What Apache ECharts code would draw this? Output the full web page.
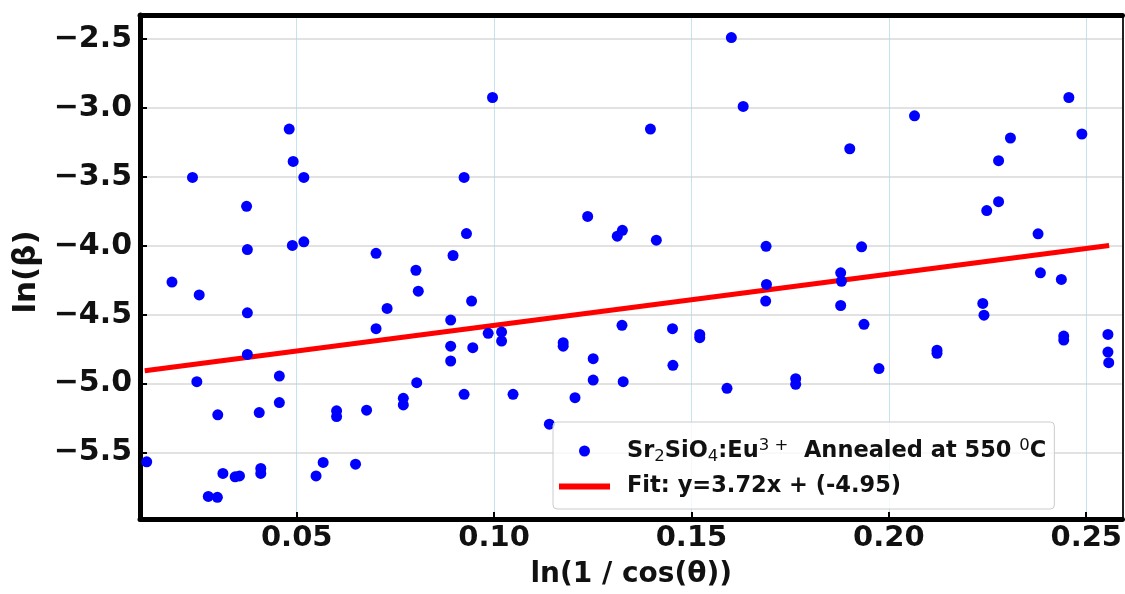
<!DOCTYPE html>
<html>
<head>
<meta charset="utf-8">
<script src="https://cdn.jsdelivr.net/npm/echarts@6/dist/echarts.min.js"></script>
<style>
html,body{margin:0;padding:0;background:#fff;}
#chart{width:1125px;height:594px;}
</style>
</head>
<body>
<div id="chart"></div>
<script>
// ---- data ----
const xValues = [0.0120,0.0184,0.0236,0.0247,0.0253,0.0276,0.0299,0.0300,0.0313,0.0344,0.0355,0.0373,0.0375,0.0375,0.0375,0.0405,0.0409,0.0409,0.0456,0.0456,
0.0481,0.0489,0.0491,0.0518,0.0518,0.0549,0.0567,0.0601,0.0601,0.0649,0.0677,0.0701,0.0701,0.0729,0.0770,0.0770,0.0802,0.0804,0.0808,0.0890,
0.0890,0.0890,0.0896,0.0924,0.0924,0.0930,0.0943,0.0946,0.0985,0.0996,0.1019,0.1019,0.1048,0.1140,0.1175,0.1175,0.1205,0.1237,0.1251,0.1251,
0.1312,0.1324,0.1325,0.1327,0.1396,0.1411,0.1452,0.1453,0.1521,0.1521,0.1590,0.1601,0.1631,0.1689,0.1690,0.1688,0.1764,0.1764,0.1878,0.1880,
0.1878,0.1901,0.1931,0.1937,0.1975,0.2065,0.2122,0.2122,0.2238,0.2241,0.2248,0.2278,0.2278,0.2308,0.2378,0.2384,0.2437,0.2443,0.2443,0.2456,
0.2489,0.2555,0.2555,0.2557];
const yValues = [-5.568,-4.263,-3.503,-4.986,-4.356,-5.819,-5.826,-5.227,-5.652,-5.677,-5.670,-3.713,-4.027,-4.486,-4.788,-5.210,-5.616,-5.652,-4.945,-5.138,
-3.152,-3.997,-3.387,-3.503,-3.971,-5.670,-5.572,-5.198,-5.239,-5.585,-5.193,-4.054,-4.601,-4.454,-5.107,-5.155,-4.177,-4.993,-4.329,-4.539,
-4.728,-4.836,-4.070,-3.503,-5.078,-3.911,-4.401,-4.739,-4.635,-2.923,-4.626,-4.691,-5.078,-5.295,-4.703,-4.728,-5.102,-3.786,-4.819,-4.974,
-3.930,-4.577,-3.887,-4.986,-3.152,-3.959,-4.601,-4.867,-4.643,-4.667,-5.034,-2.488,-2.988,-4.003,-4.280,-4.401,-4.964,-5.005,-4.196,-4.257,
-4.433,-3.295,-4.007,-4.570,-4.891,-3.056,-4.757,-4.780,-4.418,-4.503,-3.744,-3.382,-3.679,-3.217,-3.913,-4.196,-4.244,-4.655,-4.684,-2.923,
-3.188,-4.643,-4.771,-4.848];
const fitX = [0.0115, 0.2558];
const fitY = [-4.907, -3.998];
const xTicks = [0.05, 0.10, 0.15, 0.20, 0.25];
const yTicks = [-5.5, -5.0, -4.5, -4.0, -3.5, -3.0, -2.5];
const scatterName = 'Sr2SiO4:Eu3+ Annealed at 550 0C';
const fitName = 'Fit: y=3.72x + (-4.95)';

const FONT = 'DejaVu Sans';
const chart = echarts.init(document.getElementById('chart'), null, {renderer: 'canvas'});

const scatterData = xValues.map((x, i) => [x, yValues[i]]);
const fitData = fitX.map((x, i) => [x, fitY[i]]);

const option = {
  animation: false,
  backgroundColor: '#fff',
  grid: {left: 140, right: 2, top: 15, bottom: 74, containLabel: false},
  legend: {
    left: 553, top: 422,
    orient: 'vertical',
    itemWidth: 51, itemHeight: 11,
    itemGap: 10,
    symbolKeepAspect: true,
    padding: [15, 8, 11, 6],
    backgroundColor: 'rgba(255,255,255,0.8)',
    borderColor: '#cccccc', borderWidth: 1, borderRadius: 4,
    data: [
      {name: scatterName, icon: 'circle', itemStyle: {color: '#0000ff'}},
      {name: fitName, icon: 'path://M0,0 L51,0 L51,6 L0,6 Z', itemStyle: {color: '#ff0000', borderWidth: 0}}
    ],
    formatter: function (name) {
      if (name === scatterName) {
        return '{b|Sr}{sub|2}{b|SiO}{sub|4}{b|:Eu}{sup|3 +}{b|  Annealed at 550 }{sup|0}{b|C}';
      }
      return '{b|' + name + '}';
    },
    textStyle: {
      padding: [0, 0, 0, 12],
      rich: {
        b: {fontFamily: FONT, fontWeight: 'bold', fontSize: 22.5, color: '#111', lineHeight: 26},
        sub: {fontFamily: FONT, fontSize: 16.5, color: '#111', lineHeight: 26, padding: [11, 0, 0, 0]},
        sup: {fontFamily: FONT, fontSize: 16.5, color: '#111', lineHeight: 26, padding: [0, 0, 11, 0]}
      }
    }
  },
  xAxis: [{
    type: 'value', position: 'bottom',
    min: 0.0103, max: 0.2592,
    name: 'ln(1 / cos(θ))', nameLocation: 'middle', nameGap: 42,
    nameTextStyle: {fontFamily: FONT, fontWeight: 'bold', fontSize: 28, color: '#111'},
    axisLine: {show: true, onZero: false, lineStyle: {color: '#000', width: 5}},
    axisTick: {show: true, inside: true, length: 7, lineStyle: {color: '#000', width: 2}, customValues: xTicks},
    axisLabel: {customValues: xTicks, margin: 5, fontFamily: FONT, fontWeight: 'bold', fontSize: 29, color: '#111',
      formatter: v => v.toFixed(2)},
    splitLine: {show: true, lineStyle: {color: 'rgba(173,216,230,0.7)', width: 1}}
  }, {
    type: 'value', position: 'top',
    min: 0.0103, max: 0.2592,
    axisLine: {show: true, onZero: false, lineStyle: {color: '#000', width: 5}},
    axisTick: {show: false}, axisLabel: {show: false}, splitLine: {show: false}
  }],
  yAxis: [{
    type: 'value', position: 'left',
    min: -5.983, max: -2.324,
    name: 'ln(β)', nameLocation: 'middle', nameGap: 96,
    nameTextStyle: {fontFamily: FONT, fontWeight: 'bold', fontSize: 31, color: '#111', padding: [0, 10, 0, 0]},
    axisLine: {show: true, onZero: false, lineStyle: {color: '#000', width: 5}},
    axisTick: {show: true, inside: true, length: 7, lineStyle: {color: '#000', width: 2}, customValues: yTicks},
    axisLabel: {customValues: yTicks, margin: 8, fontFamily: FONT, fontWeight: 'bold', fontSize: 30, color: '#111',
      formatter: v => (v < 0 ? '\u2212' : '') + Math.abs(v).toFixed(1)},
    splitLine: {show: true, lineStyle: {color: 'rgba(200,200,200,0.7)', width: 1.5}}
  }, {
    type: 'value', position: 'right',
    min: -5.983, max: -2.324,
    axisLine: {show: true, onZero: false, lineStyle: {color: '#222', width: 2}},
    axisTick: {show: false}, axisLabel: {show: false}, splitLine: {show: false}
  }],
  series: [
    {
      name: fitName, type: 'line', data: fitData, xAxisIndex: 0, yAxisIndex: 0,
      symbol: 'none', showSymbol: false, lineStyle: {color: '#ff0000', width: 5}, itemStyle: {color: '#ff0000'}, z: 2
    },
    {
      name: scatterName, type: 'scatter', data: scatterData, xAxisIndex: 0, yAxisIndex: 0,
      symbol: 'circle', symbolSize: 11, itemStyle: {color: '#0000ff', opacity: 1}, z: 3
    }
  ]
};
chart.setOption(option);
</script>
</body>
</html>
